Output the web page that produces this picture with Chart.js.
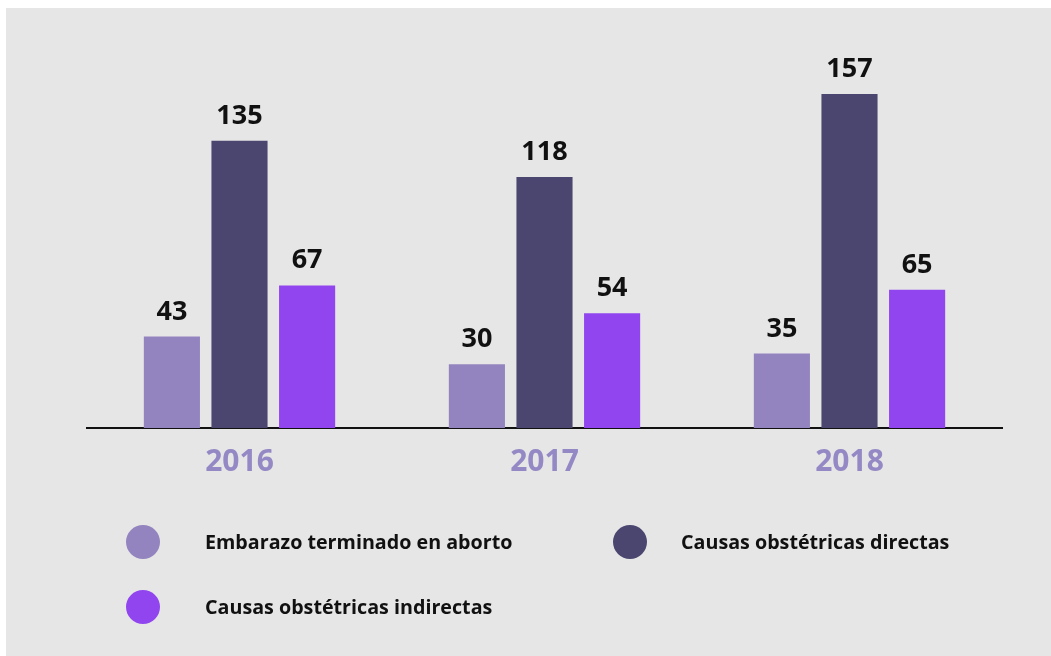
<!DOCTYPE html>
<html>
<head>
<meta charset="utf-8">
<script src="https://cdn.jsdelivr.net/npm/chart.js@4/dist/chart.umd.min.js"></script>
<style>
  html, body { margin: 0; padding: 0; background: #ffffff; }
  #wrap { position: relative; width: 1051px; height: 656px; }
</style>
</head>
<body>
<div id="wrap"><canvas id="c"></canvas></div>
<script>
const categories = ["2016", "2017", "2018"];
const seriesNames = ["Embarazo terminado en aborto", "Causas obstétricas directas", "Causas obstétricas indirectas"];
const abortoValues = [43, 30, 35];
const directasValues = [135, 118, 157];
const indirectasValues = [67, 54, 65];
const seriesColors = ["#9383bf", "#4a4670", "#9145ef"];

const FONT = "'Open Sans', 'DejaVu Sans', sans-serif";

const bgPlugin = {
  id: 'bg',
  beforeDraw(chart) {
    const ctx = chart.ctx;
    ctx.save();
    ctx.fillStyle = '#ffffff';
    ctx.fillRect(0, 0, chart.width, chart.height);
    ctx.fillStyle = '#e6e6e6';
    ctx.fillRect(6, 8, chart.width - 6, chart.height - 8);
    ctx.restore();
  }
};

const valueLabels = {
  id: 'valueLabels',
  afterDatasetsDraw(chart) {
    const ctx = chart.ctx;
    ctx.save();
    ctx.font = "700 27px " + FONT;
    ctx.fillStyle = '#111111';
    ctx.textAlign = 'center';
    ctx.textBaseline = 'alphabetic';
    chart.data.datasets.forEach((ds, di) => {
      const meta = chart.getDatasetMeta(di);
      meta.data.forEach((bar, i) => {
        ctx.fillText(String(ds.data[i]), bar.x, bar.y - 17);
      });
    });
    ctx.restore();
  }
};

const customLegend = {
  id: 'customLegend',
  afterDraw(chart) {
    const ctx = chart.ctx;
    const spots = [
      { cx: 143, cy: 542, tx: 205 },
      { cx: 630, cy: 542, tx: 681 },
      { cx: 143, cy: 607, tx: 205 }
    ];
    ctx.save();
    chart.data.datasets.forEach((ds, i) => {
      const s = spots[i];
      ctx.beginPath();
      ctx.arc(s.cx, s.cy, 17, 0, Math.PI * 2);
      ctx.fillStyle = ds.backgroundColor;
      ctx.fill();
      ctx.font = "700 19.7px " + FONT;
      ctx.fillStyle = '#111111';
      ctx.textAlign = 'left';
      ctx.textBaseline = 'middle';
      ctx.fillText(ds.label, s.tx, s.cy + 1);
    });
    ctx.restore();
  }
};

new Chart(document.getElementById('c'), {
  type: 'bar',
  data: {
    labels: categories,
    datasets: [
      { label: seriesNames[0], data: abortoValues, backgroundColor: seriesColors[0] },
      { label: seriesNames[1], data: directasValues, backgroundColor: seriesColors[1] },
      { label: seriesNames[2], data: indirectasValues, backgroundColor: seriesColors[2] }
    ]
  },
  options: {
    responsive: true,
    maintainAspectRatio: false,
    animation: false,
    devicePixelRatio: 1,
    layout: { padding: { left: 87, right: 49, top: 40, bottom: 168 } },
    datasets: { bar: { categoryPercentage: 0.665, barPercentage: 0.83 } },
    plugins: {
      legend: { display: false },
      tooltip: { enabled: false }
    },
    scales: {
      x: {
        grid: { display: false },
        border: { display: true, color: '#111111', width: 2 },
        ticks: {
          color: '#9589c5',
          font: { family: FONT, size: 30, weight: '700' },
          padding: 8
        }
      },
      y: {
        display: false,
        min: 0,
        max: 182.4,
        grid: { display: false }
      }
    }
  },
  plugins: [bgPlugin, valueLabels, customLegend]
});
</script>
</body>
</html>
